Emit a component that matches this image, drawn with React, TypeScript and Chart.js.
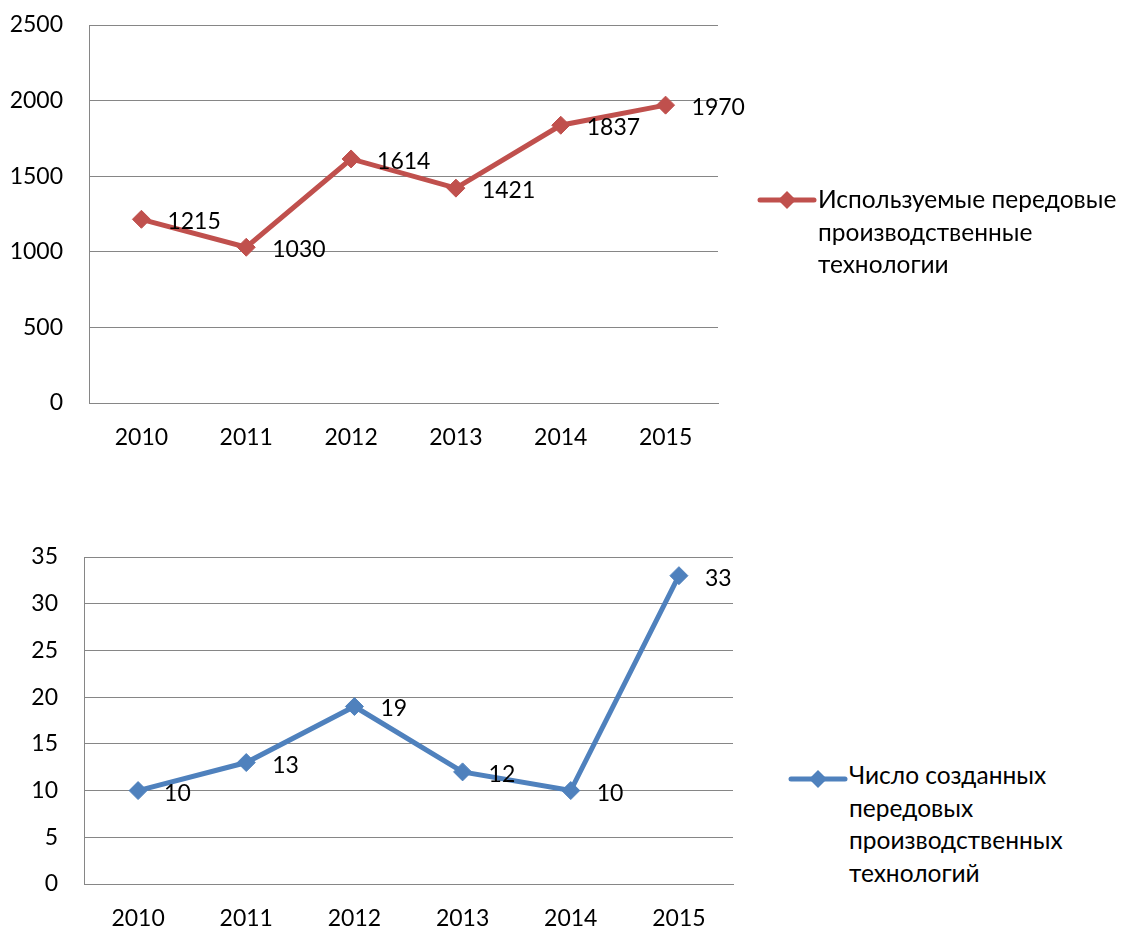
import React, { useEffect, useRef } from "react";
import { Chart, registerables } from "chart.js";

Chart.register(...registerables);

const years = ["2010", "2011", "2012", "2013", "2014", "2015"];
const usedTech = [1215, 1030, 1614, 1421, 1837, 1970];
const createdTech = [10, 13, 19, 12, 10, 33];
const usedLegend = ["Используемые передовые", "производственные", "технологии"];
const createdLegend = ["Число созданных", "передовых", "производственных", "технологий"];

const RED = "#C0504D";
const BLUE = "#4F81BD";
const GRID = "#868686";
const FONT = "Lato, 'Open Sans', sans-serif";

const valueLabels = {
  id: "valueLabels",
  afterDatasetsDraw(chart: any) {
    const ctx = chart.ctx;
    ctx.save();
    ctx.font = `23px ${FONT}`;
    ctx.fillStyle = "#000";
    ctx.textAlign = "left";
    ctx.textBaseline = "alphabetic";
    chart.data.datasets.forEach((ds: any, i: number) => {
      const meta = chart.getDatasetMeta(i);
      meta.data.forEach((pt: any, j: number) => {
        ctx.fillText(String(ds.data[j]), pt.x + 26, pt.y + 10);
      });
    });
    ctx.restore();
  },
};

function makeChart(
  canvas: HTMLCanvasElement,
  data: number[],
  color: string,
  max: number,
  step: number,
  yWidth: number,
  xHeight: number,
  padTop: number,
  padRight: number,
  xPad: number
) {
  return new Chart(canvas, {
    type: "line",
    data: {
      labels: years,
      datasets: [
        {
          data,
          borderColor: color,
          backgroundColor: color,
          borderWidth: 5,
          pointStyle: "rectRot",
          pointRadius: 9,
          pointBorderWidth: 1,
          pointBorderColor: color,
          pointBackgroundColor: color,
          tension: 0,
        },
      ],
    },
    options: {
      responsive: false,
      animation: false,
      layout: { padding: { top: padTop, right: padRight, left: 0, bottom: 0 } },
      plugins: { legend: { display: false }, tooltip: { enabled: false } },
      scales: {
        x: {
          offset: true,
          grid: { display: false, drawTicks: false },
          border: { color: GRID, width: 1 },
          ticks: { color: "#000", font: { family: FONT, size: 23 }, padding: xPad },
          afterFit: (s: any) => {
            s.height = xHeight;
            s.paddingLeft = 0;
            s.paddingRight = 0;
          },
        },
        y: {
          min: 0,
          max,
          ticks: {
            stepSize: step,
            color: "#000",
            font: { family: FONT, size: 23 },
            padding: 26,
            callback: (v: any) => String(v),
          },
          grid: { color: GRID, lineWidth: 1, drawTicks: false },
          border: { color: GRID, width: 1 },
          afterFit: (s: any) => {
            s.width = yWidth;
            s.paddingTop = 0;
            s.paddingBottom = 0;
          },
        },
      },
    },
    plugins: [valueLabels],
  } as any);
}

function LegendMarker({ color }: { color: string }) {
  return (
    <svg width="60" height="24" style={{ position: "absolute", left: 0, top: 0 }}>
      <line x1="3" y1="12" x2="57" y2="12" stroke={color} strokeWidth="5" strokeLinecap="round" />
      <polygon points="30,3 39,12 30,21 21,12" fill={color} />
    </svg>
  );
}

export default function App() {
  const topRef = useRef<HTMLCanvasElement>(null);
  const botRef = useRef<HTMLCanvasElement>(null);

  useEffect(() => {
    const c1 = makeChart(topRef.current!, usedTech, RED, 2500, 500, 89, 470 - 403, 25, 760 - 718, 21);
    const c2 = makeChart(botRef.current!, createdTech, BLUE, 35, 5, 84, 430 - 384, 57, 760 - 733, 21);
    return () => {
      c1.destroy();
      c2.destroy();
    };
  }, []);

  const textStyle: React.CSSProperties = {
    position: "absolute",
    fontFamily: FONT,
    fontSize: 24.5,
    lineHeight: "32.5px",
    color: "#000",
    whiteSpace: "nowrap",
  };

  return (
    <div style={{ position: "absolute", left: 0, top: 0, width: 1121, height: 928, background: "#fff" }}>
      <canvas ref={topRef} width={760} height={470} style={{ position: "absolute", left: 0, top: 0 }} />
      <canvas ref={botRef} width={760} height={430} style={{ position: "absolute", left: 0, top: 500 }} />
      <div style={{ position: "absolute", left: 757, top: 188, width: 60, height: 24 }}>
        <LegendMarker color={RED} />
      </div>
      <div style={{ ...textStyle, left: 818, top: 183 }}>
        {usedLegend.map((l, i) => (
          <div key={i}>{l}</div>
        ))}
      </div>
      <div style={{ position: "absolute", left: 788, top: 767, width: 60, height: 24 }}>
        <LegendMarker color={BLUE} />
      </div>
      <div style={{ ...textStyle, left: 849, top: 759 }}>
        {createdLegend.map((l, i) => (
          <div key={i}>{l}</div>
        ))}
      </div>
    </div>
  );
}
